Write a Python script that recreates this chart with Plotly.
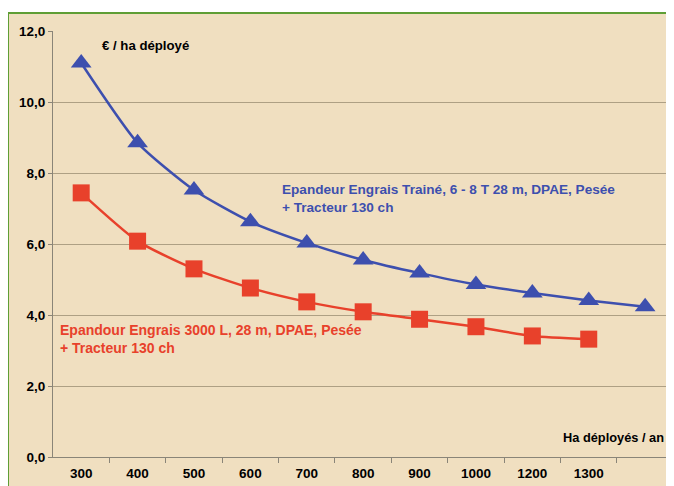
import plotly.graph_objects as go

categories = ["300", "400", "500", "600", "700", "800", "900", "1000", "1200", "1300", ""]
blue_values = [11.1, 8.85, 7.52, 6.63, 6.03, 5.55, 5.18, 4.86, 4.62, 4.41, 4.23]
red_values = [7.44, 6.08, 5.30, 4.76, 4.37, 4.09, 3.88, 3.67, 3.41, 3.32]
y_ticks = [0, 2, 4, 6, 8, 10, 12]
y_tick_labels = ["0,0", "2,0", "4,0", "6,0", "8,0", "10,0", "12,0"]

blue_name = "Epandeur Engrais Trainé, 6 - 8 T 28 m, DPAE, Pesée<br>+ Tracteur 130 ch"
red_name = "Epandour Engrais 3000 L, 28 m, DPAE, Pesée<br>+ Tracteur 130 ch"

BLUE = "#3d4fae"
RED = "#e8412b"
FONT = "Liberation Sans, Arial, sans-serif"

x_idx = list(range(len(categories)))

fig = go.Figure()
fig.add_trace(go.Scatter(
    x=x_idx[:len(blue_values)], y=blue_values, mode="lines+markers",
    line=dict(color=BLUE, width=2.5, shape="spline", smoothing=0.6),
    marker=dict(symbol="triangle-up", size=18, color=BLUE),
    name="blue", showlegend=False, cliponaxis=False))
fig.add_trace(go.Scatter(
    x=x_idx[:len(red_values)], y=red_values, mode="lines+markers",
    line=dict(color=RED, width=2.5, shape="spline", smoothing=0.6),
    marker=dict(symbol="square", size=17, color=RED),
    name="red", showlegend=False, cliponaxis=False))

fig.update_layout(
    width=658, height=478,
    margin=dict(l=45, r=0, t=23, b=29, autoexpand=False),
    paper_bgcolor="#f0dfc0",
    plot_bgcolor="rgba(0,0,0,0)",
    font=dict(family=FONT, size=13, color="black"),
    shapes=[
        dict(type="rect", xref="paper", yref="paper",
             x0=-45 / 613, x1=1.05, y0=-0.2, y1=1 + 23 / 426,
             fillcolor="white", line=dict(width=0), layer="below"),
        dict(type="rect", xref="paper", yref="paper",
             x0=-45 / 613, x1=1.05, y0=-0.2, y1=1 + 18 / 426,
             fillcolor="#f0dfc0", line=dict(color="#5f9e35", width=2),
             layer="below"),
    ],
    xaxis=dict(range=[-0.5, 10.37], tickmode="array", automargin=False,
               tickvals=x_idx, ticktext=categories, showgrid=False,
               zeroline=False, showline=True, linecolor="#8a8578", linewidth=1,
               ticks="", ticklabelstandoff=4,
               tickfont=dict(family=FONT, size=13.5, color="black", weight="bold"),
               minor=dict(tickmode="array", tickvals=[i + 0.5 for i in x_idx[:-1]],
                          ticks="outside", ticklen=5, tickcolor="#8a8578")),
    yaxis=dict(range=[0, 12], tickmode="array", tickvals=y_ticks, automargin=False,
               ticktext=y_tick_labels, showgrid=True, gridcolor="#aea084",
               gridwidth=1, zeroline=False, showline=True, linecolor="#8a8578",
               ticks="outside", ticklen=4, tickcolor="#8a8578",
               tickfont=dict(family=FONT, size=13.5, color="black", weight="bold")),
    annotations=[
        dict(text="<b>€ / ha déployé</b>", xref="x", yref="y", x=0.33, y=11.58,
             xanchor="left", yanchor="middle", showarrow=False,
             font=dict(family=FONT, size=13.2, color="black")),
        dict(text="<b>" + blue_name + "</b>", xref="x", yref="y", x=3.52, y=7.27,
             xanchor="left", yanchor="middle", align="left", showarrow=False,
             font=dict(family=FONT, size=13.6, color=BLUE)),
        dict(text="<b>" + red_name + "</b>", xref="x", yref="y", x=-0.41, y=3.33,
             xanchor="left", yanchor="middle", align="left", showarrow=False,
             font=dict(family=FONT, size=14, color=RED)),
        dict(text="<b>Ha déployés / an</b>", xref="paper", yref="y", x=1.0, y=0.56,
             xanchor="right", yanchor="middle", showarrow=False,
             font=dict(family=FONT, size=12.8, color="black")),
    ],
)

fig.write_html("out.html")
